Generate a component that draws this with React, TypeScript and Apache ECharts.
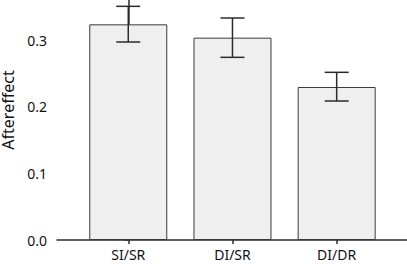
import React, { useEffect, useRef } from "react";
import * as echarts from "echarts";

const categories = ["SI/SR", "DI/SR", "DI/DR"];
const means = [0.3235, 0.3035, 0.2295];
const errHigh = [0.3505, 0.333, 0.2515];
const errLow = [0.297, 0.274, 0.2085];
const yTicks = [0, 0.1, 0.2, 0.3];

export default function App() {
  const ref = useRef<HTMLDivElement>(null);
  useEffect(() => {
    if (!ref.current) return;
    const chart = echarts.init(ref.current, null, { renderer: "svg" });
    const axisColor = "#2b2b2b";
    const font = "Noto Sans";
    chart.setOption({
      animation: false,
      grid: { left: 57, right: 0, top: 0, bottom: 24, containLabel: false, outerBoundsMode: "none" },
      xAxis: {
        type: "value",
        min: -0.684,
        max: 2.675,
        splitLine: { show: false },
        axisLine: { show: true, lineStyle: { color: axisColor, width: 1.5 } },
        axisTick: {
          show: true,
          length: 4,
          customValues: [0, 1, 2],
          lineStyle: { color: axisColor, width: 1.5 },
        },
        axisLabel: {
          customValues: [0, 1, 2],
          formatter: (v: number) => categories[Math.round(v)] ?? "",
          color: "#111",
          fontSize: 14,
          fontFamily: font,
          margin: 7,
        },
      },
      yAxis: {
        type: "value",
        min: 0,
        max: 0.36,
        name: "Aftereffect",
        nameLocation: "middle",
        nameGap: 34,
        nameTextStyle: { color: "#111", fontSize: 16, fontFamily: font, padding: [0, 0, 0, 20] },
        splitLine: { show: false },
        axisLine: { show: true, lineStyle: { color: axisColor, width: 1.5 } },
        axisTick: {
          show: true,
          length: 4,
          customValues: yTicks,
          lineStyle: { color: axisColor, width: 1.5 },
        },
        axisLabel: {
          customValues: yTicks,
          formatter: (v: number) => v.toFixed(1),
          color: "#111",
          fontSize: 14,
          fontFamily: font,
          margin: 10,
        },
      },
      series: [
        {
          type: "bar",
          data: means.map((m, i) => [i, m]),
          barWidth: 78,
          itemStyle: { color: "#efefef", borderColor: "#3a3a3a", borderWidth: 1 },
        },
        {
          type: "custom",
          data: means.map((_, i) => [i, errHigh[i], errLow[i]]),
          encode: { x: 0, y: [1, 2] },
          z: 5,
          clip: false,
          renderItem: (params: any, api: any) => {
            const x = api.value(0);
            const hi = api.coord([x, api.value(1)]);
            const lo = api.coord([x, api.value(2)]);
            const half = 12;
            const style = { stroke: "#2b2b2b", lineWidth: 1.5 };
            return {
              type: "group",
              children: [
                { type: "line", shape: { x1: hi[0], y1: hi[1], x2: lo[0], y2: lo[1] }, style },
                { type: "line", shape: { x1: hi[0] - half, y1: hi[1], x2: hi[0] + half, y2: hi[1] }, style },
                { type: "line", shape: { x1: lo[0] - half, y1: lo[1], x2: lo[0] + half, y2: lo[1] }, style },
              ],
            };
          },
        },
      ],
    });
    return () => chart.dispose();
  }, []);
  return <div ref={ref} style={{ width: 407, height: 264, position: "absolute", left: 0, top: 0 }} />;
}
